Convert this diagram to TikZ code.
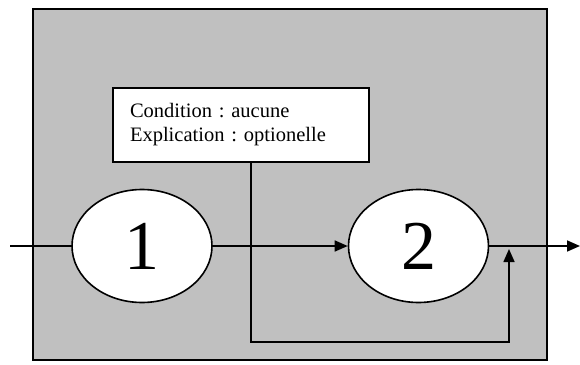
\documentclass[tikz,border=0pt]{standalone}
\usepackage{fontspec}
\setmainfont{Liberation Serif}
\usetikzlibrary{arrows.meta,shapes.geometric}
\definecolor{panel}{HTML}{C0C0C0}
\frenchspacing
\begin{document}
\begin{tikzpicture}[x=1pt,y=-1pt,
  line width=1.6pt,
  tip/.style={-{Triangle[length=13pt,width=11pt]}},
  state/.style={draw,ellipse,fill=white,minimum width=140pt,minimum height=113pt,inner sep=0pt,font=\fontsize{70}{70}\selectfont},
  note/.style={draw,fill=white,text width=222pt,inner xsep=17pt,minimum height=74pt,align=left,font=\fontsize{20.5}{24}\selectfont}]
\useasboundingbox (0,0) rectangle (580,364);
\node[draw,fill=panel,minimum width=514pt,minimum height=351pt,inner sep=0pt] (panel) at (290,184.5) {};
\node[note] (box) at (241,125) {Condition : aucune\\Explication : optionelle};
\node[state] (e1) at (142,246) {1};
\node[state] (e2) at (418.5,246) {2};
\coordinate (in) at (10,246);
\coordinate (out) at (580,246);
\coordinate (fb) at (251,342);
\coordinate (fu) at (509,342);
\coordinate (ft) at (509,249);
\draw (in) -- (e1.west);
\draw[tip] (e1.east) -- (e2.west);
\draw[tip] (e2.east) -- (out);
\draw[tip] (box.south -| fb) -- (fb) -- (fu) -- (ft);
\end{tikzpicture}
\end{document}
